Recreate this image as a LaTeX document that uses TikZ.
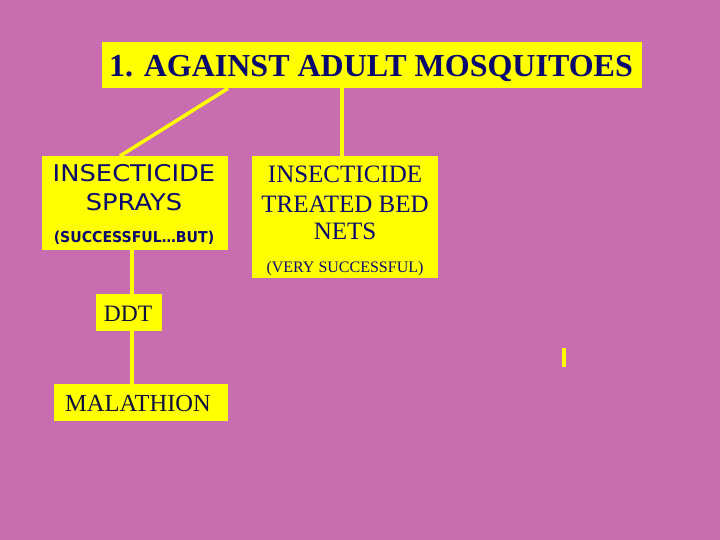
\documentclass[tikz,border=0pt]{standalone}
\usepackage{fontspec}
\setmainfont{Liberation Serif}
\newfontfamily\comicfont[FakeStretch=1.12]{DejaVu Sans}
\newfontfamily\comicnarrow[FakeStretch=0.94]{DejaVu Sans}
\definecolor{bgpink}{RGB}{200,110,176}
\definecolor{boxyellow}{RGB}{255,255,0}
\definecolor{navy}{RGB}{10,10,110}
\definecolor{darknavy}{RGB}{15,15,60}
\tikzset{
  ybox/.style={fill=boxyellow, draw=none, inner sep=0pt, anchor=north west},
  conn/.style={draw=boxyellow, line width=3.5pt},
  txt/.style={inner sep=0pt, anchor=base},
}
\begin{document}
\begin{tikzpicture}[x=1pt,y=-1pt]
\fill[bgpink] (0,0) rectangle (720,540);
\useasboundingbox (0,0) rectangle (720,540);
% boxes
\node[ybox, minimum width=540pt, minimum height=46pt] (title) at (102,42) {};
\node[ybox, minimum width=186pt, minimum height=94pt] (sprays) at (42,156) {};
\node[ybox, minimum width=186pt, minimum height=122pt] (nets) at (252,156) {};
\node[ybox, minimum width=66pt, minimum height=37pt] (ddt) at (96,294) {};
\node[ybox, minimum width=174pt, minimum height=37pt] (mal) at (54,384) {};
% texts
\node[txt, text=navy, font=\fontsize{32}{36}\selectfont\bfseries] (t1) at (371,77) {1. AGAINST ADULT MOSQUITOES};
\node[txt, text=navy, font=\comicfont\fontsize{23}{26}\selectfont] (s1) at (134,182) {INSECTICIDE};
\node[txt, text=navy, font=\comicfont\fontsize{23}{26}\selectfont] (s2) at (134,211) {SPRAYS};
\node[txt, text=navy, font=\comicnarrow\fontsize{15}{18}\selectfont\bfseries] (s3) at (134,242) {(SUCCESSFUL\ldots BUT)};
\node[txt, text=navy, font=\fontsize{25}{28}\selectfont] (n1) at (345,183) {INSECTICIDE};
\node[txt, text=navy, font=\fontsize{25}{28}\selectfont] (n2) at (345,212) {TREATED BED};
\node[txt, text=navy, font=\fontsize{25}{28}\selectfont] (n3) at (345,240) {NETS};
\node[txt, text=navy, font=\fontsize{16}{18}\selectfont] (n4) at (345,272) {(VERY SUCCESSFUL)};
\node[txt, text=darknavy, font=\fontsize{23.5}{26}\selectfont] (d1) at (128,321) {DDT};
\node[txt, text=darknavy, font=\fontsize{24.5}{27}\selectfont] (m1) at (138,411) {MALATHION};
% connectors
\draw[conn] ([xshift=126pt]title.south west) -- ([xshift=78pt]sprays.north west);
\draw[conn] ([xshift=240pt]title.south west) -- ([xshift=90pt]nets.north west);
\draw[conn] ([xshift=90pt]sprays.south west) -- ([xshift=36pt]ddt.north west);
\draw[conn] ([xshift=36pt]ddt.south west) -- ([xshift=78pt]mal.north west);
% small mark
\fill[boxyellow] (562,348) rectangle (566,367);
\end{tikzpicture}
\end{document}
